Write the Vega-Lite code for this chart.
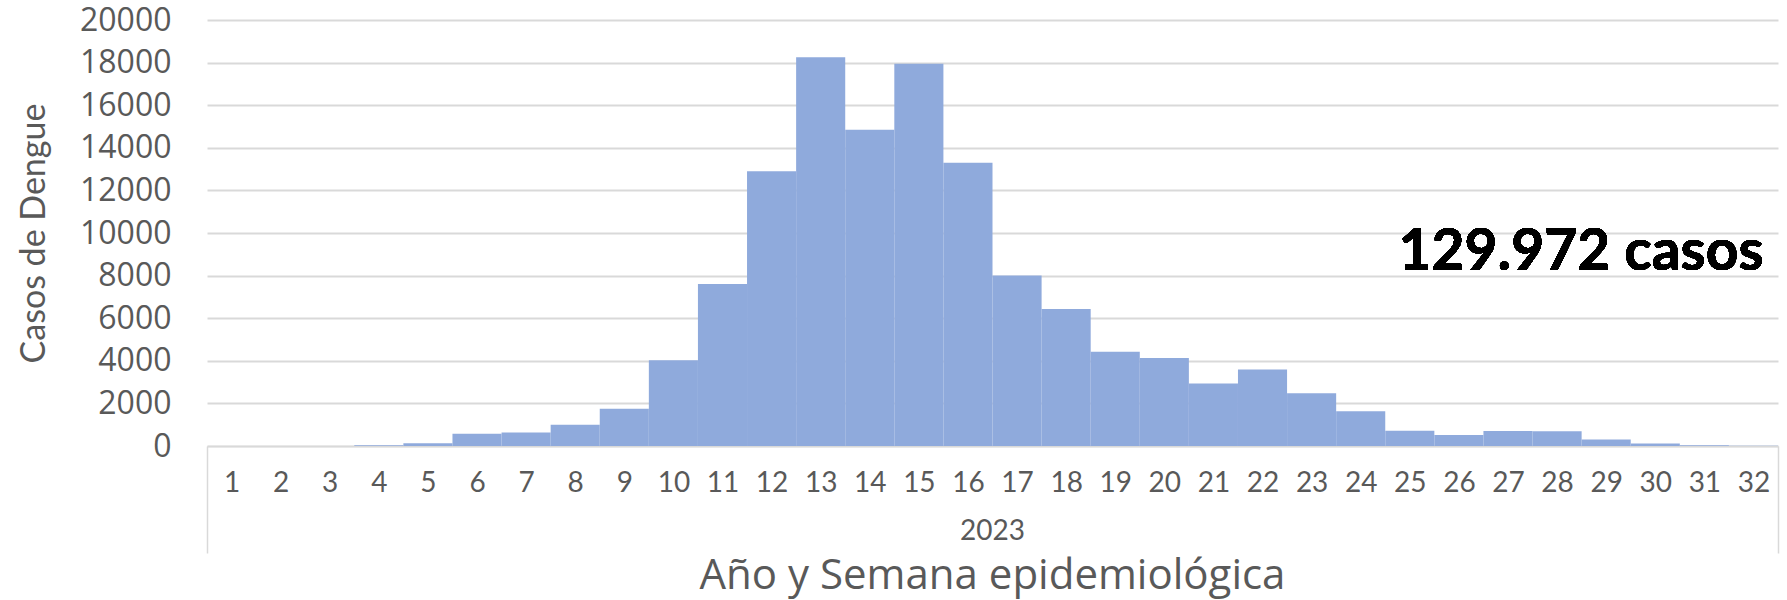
{
  "$schema": "https://vega.github.io/schema/vega-lite/v6.json",
  "autosize": "none",
  "width": 1571,
  "height": 426,
  "padding": {"left": 207, "top": 20, "right": 9, "bottom": 154},
  "background": "white",
  "config": {"view": {"stroke": null}},
  "title": {"text": "Año y Semana epidemiológica", "orient": "bottom", "anchor": "middle", "frame": "group", "font": "Open Sans", "fontSize": 42, "fontWeight": "normal", "color": "#595959", "offset": 2},
  "data": {"values": [
    {"semana": 1, "casos": 0}, {"semana": 2, "casos": 0}, {"semana": 3, "casos": 0}, {"semana": 4, "casos": 30},
    {"semana": 5, "casos": 130}, {"semana": 6, "casos": 580}, {"semana": 7, "casos": 630}, {"semana": 8, "casos": 1000},
    {"semana": 9, "casos": 1750}, {"semana": 10, "casos": 4020}, {"semana": 11, "casos": 7600}, {"semana": 12, "casos": 12900},
    {"semana": 13, "casos": 18250}, {"semana": 14, "casos": 14850}, {"semana": 15, "casos": 17950}, {"semana": 16, "casos": 13300},
    {"semana": 17, "casos": 8000}, {"semana": 18, "casos": 6430}, {"semana": 19, "casos": 4430}, {"semana": 20, "casos": 4130},
    {"semana": 21, "casos": 2930}, {"semana": 22, "casos": 3590}, {"semana": 23, "casos": 2480}, {"semana": 24, "casos": 1630},
    {"semana": 25, "casos": 720}, {"semana": 26, "casos": 520}, {"semana": 27, "casos": 710}, {"semana": 28, "casos": 690},
    {"semana": 29, "casos": 300}, {"semana": 30, "casos": 120}, {"semana": 31, "casos": 40}, {"semana": 32, "casos": 10}
  ]},
  "layer": [
    {
      "mark": {"type": "bar", "color": "#8FAADC"},
      "encoding": {
        "x": {
          "field": "semana", "type": "ordinal",
          "scale": {"paddingInner": 0, "paddingOuter": 0},
          "axis": {
            "title": "2023", "titleFont": "Lato", "titleFontSize": 28, "titleFontWeight": "normal", "titleColor": "#595959",
            "titleX": 785, "titleY": 85, "titleBaseline": "middle", "titleAlign": "center",
            "labelAngle": 0, "labelFont": "Lato", "labelFontSize": 28, "labelColor": "#595959",
            "labelBaseline": "middle", "labelPadding": -70,
            "domainColor": "#D9D9D9", "domainWidth": 1.5,
            "ticks": true, "tickBand": "extent", "tickSize": 107, "tickColor": "#D9D9D9", "tickWidth": 1.5,
            "tickOpacity": {"condition": {"test": "datum.value == 32 || datum.extra", "value": 1}, "value": 0}
          }
        },
        "y": {
          "field": "casos", "type": "quantitative",
          "scale": {"domain": [0, 20000], "nice": false},
          "axis": {
            "title": "Casos de Dengue", "titleFont": "Lato", "titleFontSize": 34, "titleFontWeight": "normal", "titleColor": "#595959",
            "titleX": -173, "titleY": 213, "titleAngle": -90, "titleBaseline": "middle", "titleAlign": "center",
            "values": [0, 2000, 4000, 6000, 8000, 10000, 12000, 14000, 16000, 18000, 20000],
            "format": "d",
            "labelFont": "Open Sans", "labelFontSize": 32, "labelColor": "#595959", "labelPadding": 36,
            "domain": false, "ticks": false,
            "grid": true, "gridColor": "#D9D9D9", "gridWidth": 2
          }
        }
      }
    },
    {
      "mark": {"type": "text", "font": "Lato", "fontSize": 57, "fontWeight": "bold", "color": "#000000", "align": "right", "baseline": "middle", "dx": 10},
      "encoding": {
        "x": {"datum": 32, "type": "ordinal"},
        "y": {"datum": 9050, "type": "quantitative"},
        "text": {"value": "129.972 casos"}
      }
    }
  ]
}
